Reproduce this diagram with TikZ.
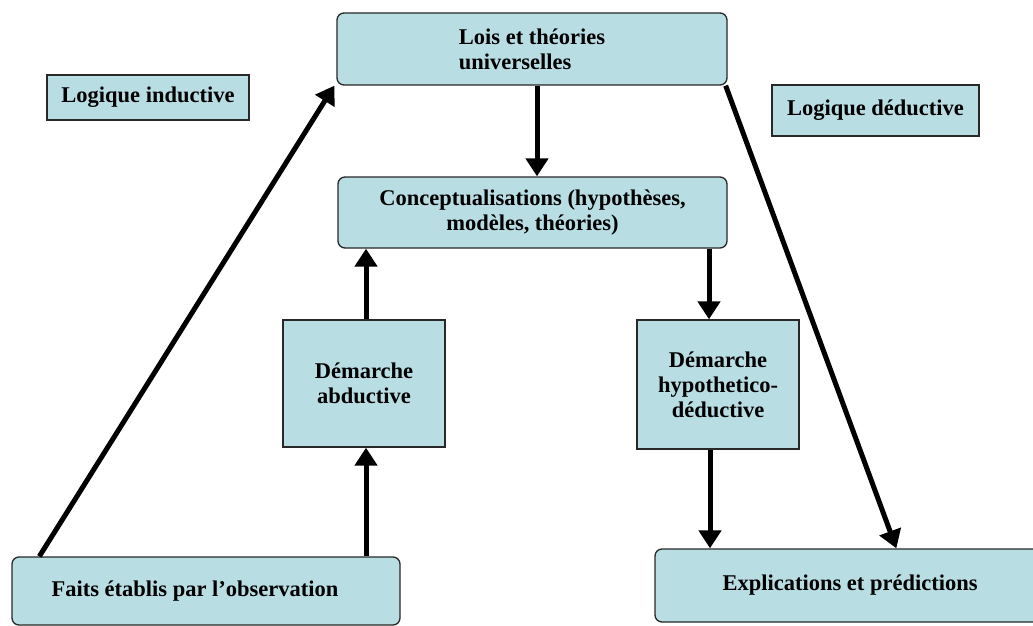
\documentclass[tikz,border=0pt]{standalone}
\usepackage{fontspec}
\setmainfont{Liberation Serif}
\usetikzlibrary{arrows.meta}
\definecolor{boxfill}{RGB}{184,222,228}
\definecolor{boxline}{RGB}{40,40,40}
\begin{document}
\begin{tikzpicture}[x=1pt,y=-1pt,
  box/.style={draw=boxline,line width=1.3pt,fill=boxfill,inner sep=2pt,
    font=\fontsize{22.5}{25}\selectfont\bfseries,align=center},
  rbox/.style={box,rounded corners=7pt},
  arr/.style={line width=5pt,-{Triangle[width=22pt,length=18pt]}}]
\useasboundingbox (0,0) rectangle (1033,626);
\clip (0,0) rectangle (1033,626);
\node[rbox,minimum width=390pt,minimum height=72pt,align=left] (lois) at (532,49) {Lois et théories\\universelles};
\node[box,minimum width=202pt,minimum height=45pt] (induc) at (148,97.5) {Logique inductive};
\node[box,minimum width=207pt,minimum height=51pt] (deduc) at (875.5,110.5) {Logique déductive};
\node[rbox,minimum width=389pt,minimum height=71pt] (concept) at (532.5,212.5) {Conceptualisations (hypothèses,\\modèles, théories)};
\node[box,minimum width=162pt,minimum height=127pt] (abduc) at (364,383.5) {Démarche\\abductive};
\node[box,minimum width=162pt,minimum height=129pt] (hypo) at (718,384.5) {Démarche\\hypothetico-\\déductive};
\node[rbox,minimum width=388pt,minimum height=68pt] (faits) at (206,591) {\hspace*{-22pt}Faits établis par l’observation};
\node[rbox,minimum width=390pt,minimum height=73pt] (expl) at (850,585.5) {Explications et prédictions};
\draw[arr] ([xshift=5pt]lois.south) -- ([xshift=5pt]lois.south |- concept.north);
\draw[arr] ([xshift=-9pt]hypo.north |- concept.south) -- ([xshift=-9pt]hypo.north);
\draw[arr] ([xshift=2pt]abduc.north) -- ([xshift=2pt]abduc.north |- concept.south);
\draw[arr] ([xshift=2pt]abduc.south |- faits.north) -- ([xshift=2pt]abduc.south);
\draw[arr] ([xshift=-8pt]hypo.south) -- ([xshift=-8pt]hypo.south |- expl.north);
\draw[arr] ([xshift=28pt]faits.north west) -- ([xshift=-2pt]lois.south west);
\draw[arr] ([xshift=-2pt]lois.south east) -- ([xshift=242pt]expl.north west);
\end{tikzpicture}
\end{document}
